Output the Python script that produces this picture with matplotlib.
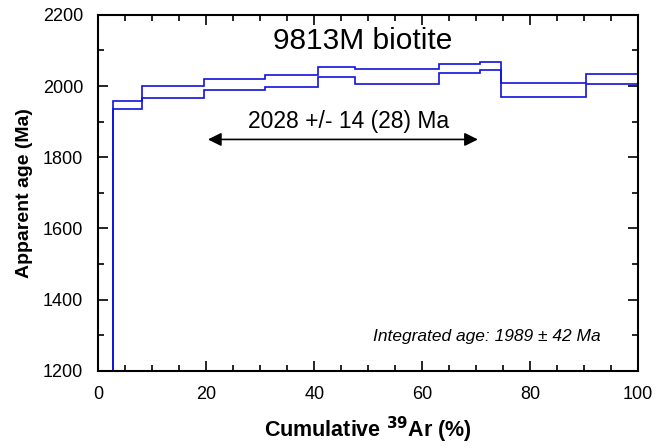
import matplotlib.pyplot as plt
import numpy as np

plt.rcParams['font.family'] = ['Liberation Sans', 'DejaVu Sans']

# step boundaries (cumulative 39Ar %) and ages (Ma)
cum_ar = [0, 2.7, 8.0, 19.6, 30.9, 40.6, 47.6, 63.1, 70.7, 74.6, 90.4, 100]
age_top = [950, 1959, 2001, 2021, 2031, 2053, 2049, 2063, 2067, 2008, 2033]
age_bot = [900, 1936, 1966, 1988, 1998, 2025, 2006, 2036, 2046, 1969, 2005]

plateau_from = 20.3
plateau_to = 70.3
plateau_age = 1850

fig = plt.figure(figsize=(6.69, 4.48), dpi=100)
ax = fig.add_axes([0.147, 0.172, 0.807, 0.795])

azul = '#1010e0'
ax.stairs(age_top, cum_ar, color=azul, lw=1.2, baseline=None)
ax.stairs(age_bot, cum_ar, color=azul, lw=1.2, baseline=None)

ax.annotate('', xy=(plateau_from, plateau_age), xytext=(plateau_to, plateau_age),
            arrowprops=dict(arrowstyle='<|-|>', color='black', lw=1.2,
                            mutation_scale=20, shrinkA=0, shrinkB=0))
ax.text(46.3, 1901, '2028 +/- 14 (28) Ma', ha='center', va='center', fontsize=16.5)
ax.text(49, 2125, '9813M biotite', ha='center', va='center', fontsize=21.5)
ax.text(93, 1298, 'Integrated age: 1989 ± 42 Ma', ha='right', va='center',
        fontsize=12.5, style='italic')

ax.set_xlim(0, 100)
ax.set_ylim(1200, 2200)
ax.set_xticks(np.arange(0, 101, 20))
ax.set_xticks(np.arange(0, 101, 5), minor=True)
ax.set_yticks(np.arange(1200, 2201, 200))
ax.set_yticks(np.arange(1200, 2201, 100), minor=True)
ax.tick_params(which='both', direction='in', top=True, right=True, labelsize=13,
               width=1.2)
ax.tick_params(which='major', length=7, pad=11)
ax.tick_params(which='minor', length=4)
for s in ax.spines.values():
    s.set_linewidth(1.5)

ax.set_xlabel('Cumulative $\\mathbf{^{39}}$Ar (%)', fontsize=15.5, fontweight='bold', labelpad=8)
ax.set_ylabel('Apparent age (Ma)', fontsize=14, fontweight='bold', labelpad=7)

fig.savefig('out.png', dpi=100)
